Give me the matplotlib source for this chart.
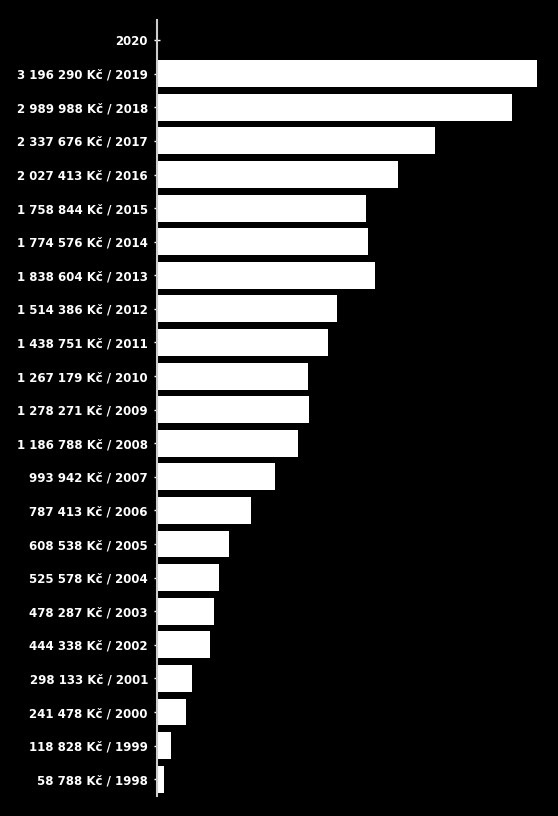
import matplotlib
matplotlib.use("Agg")
import matplotlib.pyplot as plt
import numpy as np

years = ["2020", "2019", "2018", "2017", "2016", "2015", "2014", "2013", "2012",
         "2011", "2010", "2009", "2008", "2007", "2006", "2005", "2004", "2003",
         "2002", "2001", "2000", "1999", "1998"]
amounts = [0, 3196290, 2989988, 2337676, 2027413, 1758844, 1774576, 1838604,
           1514386, 1438751, 1267179, 1278271, 1186788, 993942, 787413, 608538,
           525578, 478287, 444338, 298133, 241478, 118828, 58788]


def fmt(v):
    return "{:,}".format(v).replace(",", " ")


labels = []
for y, a in zip(years, amounts):
    if a == 0:
        labels.append(y)
    else:
        labels.append(fmt(a) + " Kč / " + y)

fig = plt.figure(figsize=(5.58, 8.16), dpi=100, facecolor="black")
ax = fig.add_axes([157 / 558, 20 / 816, 392 / 558, 776 / 816])
ax.set_facecolor("black")

pos = np.arange(len(years))[::-1]
ax.barh(pos, amounts, height=0.8, color="white", edgecolor="none")

ax.set_xlim(0, 3.3e6)
ax.set_ylim(-0.5, 22.6)
ax.set_yticks(pos)
ax.set_yticklabels(labels, color="white", fontsize=8.5, fontweight="bold")
ax.tick_params(axis="y", colors="white", length=5, width=1, direction="inout", pad=4)
ax.set_xticks([])
for s in ["top", "right", "bottom"]:
    ax.spines[s].set_visible(False)
ax.spines["left"].set_color("#cccccc")
ax.spines["left"].set_linewidth(1.5)

fig.savefig("out.png", dpi=100, facecolor="black")
